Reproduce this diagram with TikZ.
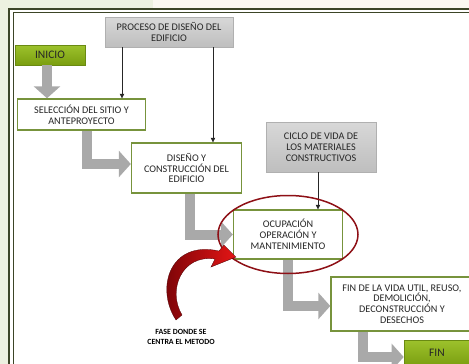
\documentclass[tikz,border=0pt]{standalone}
\usepackage{fontspec}
\setmainfont{Carlito}
\usetikzlibrary{positioning,arrows.meta,calc}
\definecolor{slidegreen}{HTML}{EDF1E0}
\definecolor{slidecream}{HTML}{FBF8F1}
\definecolor{framedark}{HTML}{3C4527}
\definecolor{boxline}{HTML}{77933C}
\definecolor{boxtext}{HTML}{262626}
\definecolor{greentop}{HTML}{9DC22C}
\definecolor{greenbot}{HTML}{7A9E10}
\definecolor{greenline}{HTML}{6A8A12}
\definecolor{greytop}{HTML}{D8D8D8}
\definecolor{greybot}{HTML}{BEBEBE}
\definecolor{greyline}{HTML}{B0B0B0}
\definecolor{fatgrey}{HTML}{A9A9A9}
\definecolor{ringred}{HTML}{8E1016}
\definecolor{redlight}{HTML}{E41515}
\definecolor{reddark}{HTML}{6E0206}

\begin{document}
\begin{tikzpicture}[
  x=1pt, y=-1pt,
  font=\fontsize{10.2}{10.8}\selectfont,
  stage/.style={draw=boxline, line width=1.4pt, fill=white, align=center,
                text=boxtext, inner sep=2pt},
  source/.style={draw=greyline, line width=0.6pt, top color=greytop, bottom color=greybot,
                 align=center, text=boxtext, inner sep=2pt},
  endpoint/.style={draw=greenline, line width=0.6pt, top color=greentop, bottom color=greenbot,
                   text=boxtext, font=\fontsize{11.5}{13}\selectfont, inner sep=2pt},
  fatarr/.style={-{Triangle[length=12pt, width=26pt]}, line width=10pt, fatgrey},
  thinarr/.style={-{Triangle[length=4.5pt, width=4.5pt]}, line width=0.6pt, black!85},
  lab/.style={font=\fontsize{7.9}{9.8}\selectfont\bfseries, align=center, inner sep=1pt}
]
\useasboundingbox (0,0) rectangle (469,364);
\clip (0,0) rectangle (469,364);
% ----- slide background and double frame -----
\fill[white] (0,0) rectangle (469,364);
\fill[slidegreen] (0,0) rectangle (9,364);
\fill[slidegreen] (0,0) rectangle (153,8.5);
\fill[slidecream] (153,0) rectangle (469,8.5);
\draw[framedark, line width=2pt] (9,364) -- (9,9) -- (469,9);
\draw[framedark, line width=0.7pt] (13,364) -- (13,12.5) -- (469,12.5);
% ----- stages -----
\node[source, minimum width=128pt, minimum height=30pt] (proceso) at (169,32)
  {PROCESO DE DISEÑO DEL\\EDIFICIO};
\node[endpoint, minimum width=70pt, minimum height=20pt] (inicio) at (50,55) {INICIO};
\node[stage, minimum width=128pt, minimum height=31pt] (seleccion) at (81.5,114.5)
  {SELECCIÓN DEL SITIO Y\\ANTEPROYECTO};
\node[stage, minimum width=110pt, minimum height=50pt] (diseno) at (186.5,168)
  {DISEÑO Y\\CONSTRUCCIÓN DEL\\EDIFICIO};
\node[source, minimum width=110pt, minimum height=50pt] (ciclo) at (321,147)
  {CICLO DE VIDA DE\\LOS MATERIALES\\CONSTRUCTIVOS};
\node[stage, minimum width=109pt, minimum height=49pt] (ocupacion) at (288,234.5)
  {OCUPACIÓN\\OPERACIÓN Y\\MANTENIMIENTO};
\node[stage, minimum width=142pt, minimum height=54pt] (finvida) at (402,304)
  {FIN DE LA VIDA UTIL, REUSO,\\DEMOLICIÓN,\\DECONSTRUCCIÓN Y\\DESECHOS};
\node[endpoint, minimum width=66pt, minimum height=26pt] (fin) at (437,353) {FIN};
% ----- fat flow arrows between stages -----
\draw[fatarr] ([xshift=-3pt]inicio.south) -- ([xshift=-3pt]inicio.south |- seleccion.north);
\draw[fatarr] ([xshift=5.5pt]seleccion.south) |- ([yshift=4pt]diseno.west);
\draw[fatarr] ([xshift=3.5pt]diseno.south) |- (ocupacion.west);
\draw[fatarr] (ocupacion.south) |- ([yshift=-2pt]finvida.west);
\draw[fatarr] ([xshift=-39pt]finvida.south) |- ([yshift=-4pt]fin.west);
% ----- thin inputs from the grey boxes -----
\draw[thinarr] ([xshift=-47pt]proceso.south) -- ([xshift=-47pt]proceso.south |- seleccion.north);
\draw[thinarr] ([xshift=44pt]proceso.south) -- ([xshift=44pt]proceso.south |- diseno.north);
\draw[thinarr] ([xshift=-3pt]ciclo.south) -- ([xshift=-3pt]ciclo.south |- ocupacion.north);
% ----- highlighted phase -----
\draw[ringred, line width=1.5pt] (ocupacion.center) ellipse [x radius=70pt, y radius=39pt];
\shadedraw[left color=reddark, right color=redlight, draw=reddark!70!black, line width=0.3pt]
  (176,320) -- (182,315)
  .. controls (167,290) and (182,254) .. (215,259)
  -- (211,267) -- (236,257) -- (224,245) -- (219,251)
  .. controls (170,240) and (155,288) .. cycle;
\node[lab, text=black] (fase) at (181,337) {FASE DONDE SE\\CENTRA EL METODO};
\end{tikzpicture}
\end{document}
